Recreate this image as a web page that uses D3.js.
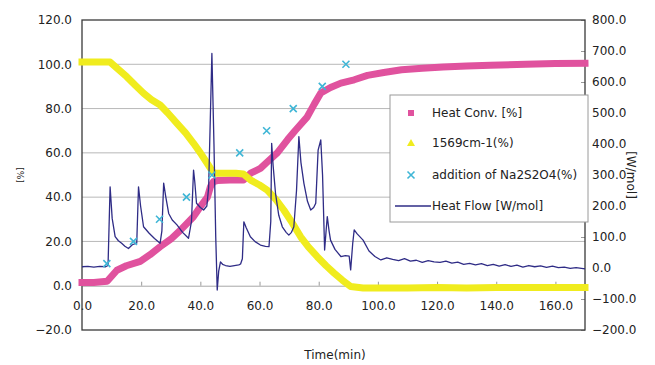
<!DOCTYPE html>
<html>
<head>
<meta charset="utf-8">
<script src="https://cdn.jsdelivr.net/npm/d3@7/dist/d3.min.js"></script>
<style>
  body { margin: 0; background: #fff; }
  text { font-family: "DejaVu Sans", Arial, sans-serif; }
</style>
</head>
<body>
<figure id="chart" style="margin:0"></figure>
<script>
// Heat Conv. [%] (left axis)
const convTime = [0, 4, 8.5, 11.8, 15, 19.7, 23, 26.4, 30, 33.2, 37.6, 40, 42.4, 43.4, 44.4, 45.7, 50, 54.6, 57, 60.3, 62.7, 66, 69.5, 72, 76, 78.5, 80.7, 84, 87.5, 92, 96.5, 102, 108, 115, 122, 130, 138, 150, 160, 170];
const convVals = [1.5, 1.5, 2, 7, 9, 11, 14, 17.6, 21, 25, 31, 35.7, 40, 44.7, 47, 47.5, 47.7, 47.7, 50.8, 53, 56, 60, 66, 70, 76, 82, 87, 89.5, 91.5, 93, 95, 96.3, 97.5, 98.2, 98.8, 99.2, 99.6, 100, 100.3, 100.5];

// 1569cm-1(%) (left axis)
const bandTime = [0, 4, 9.5, 12, 15.1, 18, 20.8, 23.5, 26.4, 29, 32.1, 35, 37.7, 40, 42.3, 44.5, 48, 52, 54.5, 57, 60, 62.6, 65.5, 68.2, 71, 73.9, 76.5, 79.5, 82.5, 85.2, 88, 90.8, 95, 100, 110, 120, 130, 140, 150, 160, 170];
const bandVals = [101, 101, 101, 98, 94.4, 90.5, 86.9, 84, 81.6, 78, 73.3, 69, 64.3, 60, 55.3, 50.8, 50.8, 50.8, 50.5, 47.7, 45.5, 43.2, 39, 34.2, 28.5, 22.1, 17.5, 13.1, 9, 5.7, 2.5, -0.4, -1, -1, -1, -0.8, -1, -0.8, -0.8, -0.8, -0.8];

// addition of Na2S2O4(%) (left axis)
const addTime = [8.4, 17.4, 26.2, 35.3, 43.9, 53.3, 62.4, 71.4, 81.2, 89.2];
const addVals = [10, 20, 30, 40, 50, 60, 70, 80, 90, 100];

// Heat Flow [W/mol] (right axis)
const flowTime = [0, 2, 4, 6, 8, 8.8, 9.5, 10.2, 11.2, 12.3, 13.4, 14.5, 15.7, 17, 18.5, 19.1, 19.8, 20.8, 22.7, 24.5, 26.4, 27, 27.6, 28.3, 29.3, 30.5, 32.1, 34, 36, 37, 37.7, 38.1, 38.7, 40, 41.1, 42.2, 42.8, 43.9, 44.6, 45.2, 45.7, 46.2, 46.8, 47.5, 48.5, 50, 51.5, 53, 53.6, 54.2, 54.7, 55.5, 56.9, 58.5, 60.3, 62, 63.2, 63.8, 64.1, 64.6, 65.4, 66.5, 67.7, 69, 69.9, 70.8, 71.6, 72.5, 73.3, 74, 75, 76.2, 77.3, 78.3, 79, 79.8, 80.7, 81.3, 82, 82.5, 82.9, 83.5, 84, 85.5, 87.5, 89, 90.3, 90.8, 91.5, 92, 93, 95, 97, 99, 101, 103, 105, 107, 109, 111, 113, 115, 117, 119, 121, 123, 125, 127, 129, 131, 133, 135, 137, 139, 141, 143, 145, 147, 149, 151, 153, 155, 157, 159, 161, 163, 165, 167, 170];
const flowVals = [4, 5, 3, 5, 4, 8, 262, 160, 101, 88, 80, 70, 63, 75, 80, 262, 200, 133, 112, 95, 80, 120, 274, 230, 176, 155, 139, 115, 96, 150, 316, 280, 209, 195, 187, 200, 260, 692, 400, 100, -71, -10, 20, 12, 8, 5, 8, 10, 13, 30, 149, 130, 101, 85, 74, 70, 69, 150, 402, 330, 241, 170, 133, 115, 106, 115, 133, 250, 424, 340, 273, 215, 187, 195, 209, 380, 413, 300, 58, 120, 166, 120, 90, 60, 37, 40, 38, -6, 80, 123, 110, 90, 55, 37, 26, 33, 28, 24, 30, 22, 25, 18, 24, 20, 18, 22, 16, 19, 12, 15, 10, 14, 8, 12, 6, 11, 5, 9, 3, 8, 4, 7, 2, 6, 1, 3, -1, 1, -3];

const xTicks = [0, 20, 40, 60, 80, 100, 120, 140, 160];
const leftTicks = [-20, 0, 20, 40, 60, 80, 100, 120];
const rightTicks = [-200, -100, 0, 100, 200, 300, 400, 500, 600, 700, 800];
const legendNames = ["Heat Conv. [%]", "1569cm-1(%)", "addition of Na2S2O4(%)", "Heat Flow [W/mol]"];

const width = 655, height = 365;
const plotL = 82, plotR = 585, plotT = 20, plotB = 330;

const pink = "#e0529e", yellow = "#f0ec1e", cyan = "#3fb6d6", navy = "#2f2c86";

const svg = d3.select("#chart").append("svg")
  .attr("width", width)
  .attr("height", height);

const x = d3.scaleLinear().domain([0, 170]).range([plotL, plotR]);
const yL = d3.scaleLinear().domain([-20, 120]).range([plotB, plotT]);
const yR = d3.scaleLinear().domain([-200, 800]).range([plotB, plotT]);

// gridlines
svg.append("g").selectAll("line")
  .data(leftTicks.filter(d => d > 0 && d < 120))
  .enter().append("line")
  .attr("x1", plotL).attr("x2", plotR)
  .attr("y1", d => yL(d)).attr("y2", d => yL(d))
  .attr("stroke", "#b8b8b8").attr("stroke-width", 1);

// x axis crossing at 0
const xAxis = svg.append("g")
  .attr("transform", `translate(0,${yL(0)})`)
  .call(d3.axisBottom(x).tickValues(xTicks).tickFormat(d3.format(".1f"))
    .tickSizeInner(-4).tickSizeOuter(0).tickPadding(16));
xAxis.select(".domain").attr("stroke", "#a8a8a8");
xAxis.selectAll(".tick line").attr("stroke", "#999");

const yAxisL = svg.append("g")
  .attr("transform", `translate(${plotL},0)`)
  .call(d3.axisLeft(yL).tickValues(leftTicks).tickFormat(d3.format(".1f"))
    .tickSizeInner(0).tickSizeOuter(0).tickPadding(10));
yAxisL.select(".domain").remove();

const yAxisR = svg.append("g")
  .attr("transform", `translate(${plotR},0)`)
  .call(d3.axisRight(yR).tickValues(rightTicks).tickFormat(d3.format(".1f"))
    .tickSizeInner(-4).tickSizeOuter(0).tickPadding(7));
yAxisR.select(".domain").remove();
yAxisR.selectAll(".tick line").attr("stroke", "#999");

[xAxis, yAxisL, yAxisR].forEach(a => {
  a.selectAll("text").attr("font-size", "12px").attr("fill", "#222")
    .attr("font-family", "'DejaVu Sans', Arial, sans-serif");
});

// plot border
svg.append("rect")
  .attr("x", plotL).attr("y", plotT)
  .attr("width", plotR - plotL).attr("height", plotB - plotT)
  .attr("fill", "none").attr("stroke", "#3a3a3a").attr("stroke-width", 1.3);

// series
const convLine = d3.line().x((d, i) => x(convTime[i])).y(d => yL(d));
svg.append("path").datum(convVals)
  .attr("d", convLine)
  .attr("fill", "none").attr("stroke", pink).attr("stroke-width", 7)
  .attr("stroke-linecap", "square").attr("stroke-linejoin", "round");

const bandLine = d3.line().x((d, i) => x(bandTime[i])).y(d => yL(d));
svg.append("path").datum(bandVals)
  .attr("d", bandLine)
  .attr("fill", "none").attr("stroke", yellow).attr("stroke-width", 7)
  .attr("stroke-linecap", "square").attr("stroke-linejoin", "round");

const flowLine = d3.line().x((d, i) => x(flowTime[i])).y(d => yR(d));
svg.append("path").datum(flowVals)
  .attr("d", flowLine)
  .attr("fill", "none").attr("stroke", navy).attr("stroke-width", 1.3)
  .attr("stroke-linejoin", "round");

const cross = (g, cx, cy, r) => {
  g.append("path")
    .attr("d", `M${cx - r},${cy - r}L${cx + r},${cy + r}M${cx - r},${cy + r}L${cx + r},${cy - r}`)
    .attr("stroke", cyan).attr("stroke-width", 1.6).attr("fill", "none");
};
const addG = svg.append("g");
addVals.forEach((d, i) => cross(addG, x(addTime[i]), yL(d), 3.5));

// legend
const lg = svg.append("g");
lg.append("rect")
  .attr("x", 390).attr("y", 95).attr("width", 198).attr("height", 127)
  .attr("fill", "#fff").attr("stroke", "#9a9a9a").attr("stroke-width", 1);
const rowY = [113, 143, 175, 206];
lg.append("rect").attr("x", 408).attr("y", rowY[0] - 3).attr("width", 6).attr("height", 6).attr("fill", pink);
lg.append("path").attr("d", `M411,${rowY[1] - 4}L415,${rowY[1] + 3}L407,${rowY[1] + 3}Z`).attr("fill", yellow);
cross(lg, 411, rowY[2], 3.5);
lg.append("line").attr("x1", 395).attr("x2", 431).attr("y1", rowY[3]).attr("y2", rowY[3])
  .attr("stroke", navy).attr("stroke-width", 1.3);
lg.selectAll("text.label")
  .data(legendNames)
  .enter().append("text")
  .attr("class", "label")
  .attr("x", 432)
  .attr("y", (d, i) => rowY[i])
  .attr("dy", "0.35em")
  .attr("font-size", "12px")
  .attr("fill", "#222")
  .text(d => d);

// axis titles
svg.append("text")
  .attr("transform", "translate(17,175) rotate(90)")
  .attr("text-anchor", "middle")
  .attr("font-size", "9px").attr("fill", "#222")
  .text("[%]");
svg.append("text")
  .attr("transform", "translate(627,175) rotate(90)")
  .attr("text-anchor", "middle")
  .attr("font-size", "12px").attr("fill", "#222")
  .text("[W/mol]");
svg.append("text")
  .attr("x", 335).attr("y", 359)
  .attr("text-anchor", "middle")
  .attr("font-size", "12px").attr("fill", "#222")
  .text("Time(min)");
</script>
</body>
</html>
